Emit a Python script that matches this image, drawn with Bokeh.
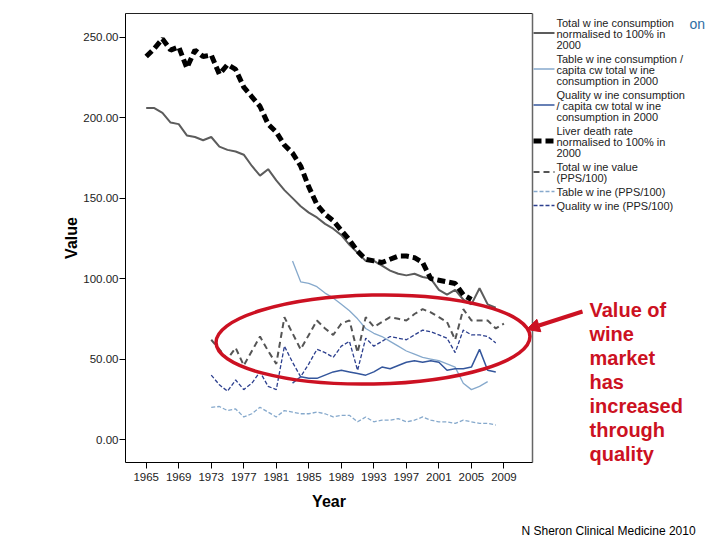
from bokeh.plotting import figure
from bokeh.models import Range1d, FixedTicker, NumeralTickFormatter, Label, Arrow, NormalHead
from bokeh.embed import file_html
from bokeh.resources import INLINE

# ---------------- data ----------------
years_total_consumption = list(range(1965, 2009))
total_consumption = [206, 206, 203, 197, 196, 189, 188, 186, 188, 182,
                     180, 179, 177, 170, 164, 168, 161, 155, 150, 145,
                     141, 138, 134, 131, 127, 121, 116, 111, 111, 108,
                     105, 103, 102, 103, 101, 100, 93, 90, 93, 87,
                     84, 94, 84, 82]

years_liver = list(range(1965, 2006))
liver_death = [238, 243, 249, 242, 244, 231, 242, 238, 239, 227,
               233, 230, 219, 213, 207, 196, 191, 183, 178, 170,
               157, 146, 140, 136, 130, 124, 117, 112, 111, 110,
               112, 114, 114, 113, 110, 100, 99, 98, 97, 90,
               87]

years_table_consumption = list(range(1983, 2008))
table_consumption = [111, 98, 97, 95, 91, 88, 84, 80, 75, 69,
                     66, 64, 61, 58, 55, 53, 51, 50, 49, 47,
                     45, 35, 31, 33, 36]

years_quality_consumption = list(range(1983, 2009))
quality_consumption = [35, 39, 38, 38, 40, 42, 43, 42, 41, 40,
                       42, 45, 44, 46, 48, 49, 48, 49, 48, 43,
                       44, 44, 45, 56, 43, 42]

years_total_value = list(range(1973, 2010))
total_value = [62, 56, 50, 57, 46, 55, 64, 55, 47, 76,
               66, 56, 65, 74, 69, 65, 72, 74, 54, 76,
               70, 73, 76, 75, 74, 78, 81, 79, 76, 73,
               62, 81, 74, 74, 74, 69, 72]

years_value = list(range(1973, 2009))
table_value = [20, 20.5, 18, 19, 14, 16, 20, 17, 14, 18,
               17, 16, 16, 17, 16, 14, 15, 15, 11, 14,
               11, 12, 12, 13, 11, 12, 14, 12, 11, 11,
               10, 12, 11, 10, 10, 9]
quality_value = [40, 34, 30, 37, 31, 35, 42, 33, 31, 58,
                 48, 39, 47, 56, 54, 51, 58, 61, 43, 63,
                 58, 61, 64, 63, 62, 65, 68, 67, 65, 63,
                 54, 68, 65, 65, 64, 60]

x_ticks = list(range(1965, 2010, 4))
y_ticks = [0, 50, 100, 150, 200, 250]

legend_labels = [
    ["Total w ine consumption", "normalised to 100% in", "2000"],
    ["Table w ine consumption /", "capita cw  total w ine", "consumption in 2000"],
    ["Quality w ine consumption", "/ capita cw  total w ine", "consumption in 2000"],
    ["Liver death rate", "normalised to 100% in", "2000"],
    ["Total w ine value", "(PPS/100)"],
    ["Table w ine  (PPS/100)"],
    ["Quality w ine (PPS/100)"],
]
annotation_lines = ["Value of", "wine", "market", "has", "increased", "through", "quality"]
credit = "N Sheron Clinical Medicine 2010"

# ---------------- layout helpers (canvas pixels -> data) ----------------
X0_PX, X_PER_YEAR = 145.7, 8.13
Y0_PX, Y_PER_UNIT = 439.0, 1.609
W, H = 720, 540
AXIS_X, AXIS_Y = 125, 462          # positions of the value axis and year axis
BOX_R, BOX_T = 532, 13             # right and top edges of the chart box


def px_x(px):
    return 1965 + (px - X0_PX) / X_PER_YEAR


def px_y(py):
    return (Y0_PX - py) / Y_PER_UNIT


FONT = "Liberation Sans"

# the frame covers the whole canvas; both axes are fixed on the chart box edges
p = figure(width=W, height=H, output_backend="svg", toolbar_location=None,
           x_range=Range1d(px_x(0), px_x(W)), y_range=Range1d(px_y(H), px_y(0)),
           min_border_left=0, min_border_right=0, min_border_top=0, min_border_bottom=0)
p.outline_line_color = None
p.grid.visible = False
p.background_fill_color = "white"
p.border_fill_color = "white"

# axes
p.xaxis.ticker = FixedTicker(ticks=x_ticks)
p.yaxis.ticker = FixedTicker(ticks=y_ticks)
p.yaxis.formatter = NumeralTickFormatter(format="0.00")
p.xaxis.fixed_location = px_y(AXIS_Y)
p.yaxis.fixed_location = px_x(AXIS_X)
p.xaxis.bounds = (px_x(AXIS_X), px_x(BOX_R))
p.yaxis.bounds = (px_y(AXIS_Y), px_y(BOX_T))
for ax in (p.xaxis, p.yaxis):
    ax.axis_line_color = "black"
    ax.major_tick_line_color = "black"
    ax.minor_tick_line_color = None
    ax.major_tick_in = 0
    ax.major_tick_out = 6
    ax.major_label_text_font = FONT
    ax.major_label_text_font_size = "11.5px"
    ax.major_label_text_color = "#222222"
    ax.axis_label_text_font = FONT
    ax.axis_label_text_font_size = "16px"
    ax.axis_label_text_font_style = "bold"
    ax.axis_label_text_color = "black"
p.xaxis.axis_label = "Year"
p.yaxis.axis_label = "Value"
p.xaxis.major_label_standoff = 4
p.yaxis.major_label_standoff = 1
p.xaxis.axis_label_standoff = 9
p.yaxis.axis_label_standoff = 0

# chart box top and right borders
p.segment(x0=[px_x(AXIS_X)], y0=[px_y(BOX_T)], x1=[px_x(BOX_R)], y1=[px_y(BOX_T)],
          line_color="#222222", line_width=1.2)
p.segment(x0=[px_x(BOX_R)], y0=[px_y(BOX_T)], x1=[px_x(BOX_R)], y1=[px_y(AXIS_Y)],
          line_color="#666666", line_width=1.5)

styles = [
    dict(color="#5c5c5c", width=2.0, dash="solid"),
    dict(color="#86a9cc", width=1.3, dash="solid"),
    dict(color="#34569c", width=1.5, dash="solid"),
    dict(color="#000000", width=5.0, dash="8 4"),
    dict(color="#555555", width=2.0, dash="6 4"),
    dict(color="#86a9cc", width=1.3, dash="4 2"),
    dict(color="#2c3f8e", width=1.3, dash="4 2"),
]
series = [
    (years_total_consumption, total_consumption),
    (years_table_consumption, table_consumption),
    (years_quality_consumption, quality_consumption),
    (years_liver, liver_death),
    (years_total_value, total_value),
    (years_value, table_value),
    (years_value, quality_value),
]
draw_order = [5, 6, 1, 2, 4, 0, 3]
for i in draw_order:
    xs, ys = series[i]
    st = styles[i]
    p.line(xs, ys, line_color=st["color"], line_width=st["width"], line_dash=st["dash"])

# legend (drawn manually to the right of the chart box)
entry_top = [22, 58, 94, 130, 166, 191, 205]
sample_y = [32.5, 68.5, 104.5, 140.5, 171.5, 191, 205]
LINE_H = 11.3
for i, lines in enumerate(legend_labels):
    st = styles[i]
    p.segment(x0=[px_x(533)], y0=[px_y(sample_y[i])], x1=[px_x(554)], y1=[px_y(sample_y[i])],
              line_color=st["color"], line_width=st["width"], line_dash=st["dash"])
    for j, t in enumerate(lines):
        p.add_layout(Label(x=px_x(556), y=px_y(entry_top[i] + j * LINE_H), text=t,
                           text_font=FONT, text_font_size="11px", text_color="#222222",
                           text_baseline="middle", text_align="left"))

# red annotation: ellipse, arrow and text
RED = "#cc1122"
p.ellipse(x=[px_x(372.5)], y=[px_y(339)], width=314 / X_PER_YEAR, height=89 / Y_PER_UNIT,
          angle=0.02, fill_color=None, line_color=RED, line_width=3.5)
p.add_layout(Arrow(end=NormalHead(size=13, fill_color=RED, line_color=RED),
                   x_start=px_x(582), y_start=px_y(311), x_end=px_x(526), y_end=px_y(329),
                   line_color=RED, line_width=4))
for k, t in enumerate(annotation_lines):
    p.add_layout(Label(x=px_x(589), y=px_y(309 + 24 * k), text=t, text_font=FONT,
                       text_font_size="20px", text_font_style="bold", text_color=RED,
                       text_baseline="middle", text_align="left"))

# credit line and fragment of slide text at the top right
p.add_layout(Label(x=px_x(521), y=px_y(530), text=credit, text_font=FONT,
                   text_font_size="12px", text_color="black", text_baseline="middle"))
p.add_layout(Label(x=px_x(689), y=px_y(23), text="on", text_font=FONT,
                   text_font_size="14px", text_color="#2e6da4", text_baseline="middle"))

open("out.html", "w").write(file_html(p, INLINE))
